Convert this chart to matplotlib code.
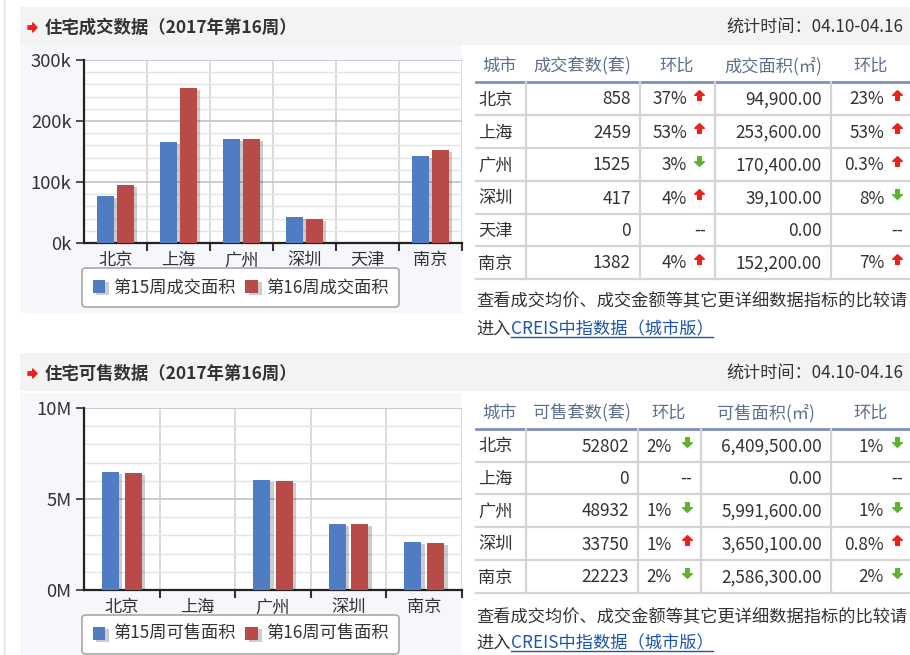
"""Weekly housing deal / supply dashboard: two bar charts with side tables."""

import matplotlib
matplotlib.use("Agg")
import matplotlib.pyplot as plt
import numpy as np
from matplotlib import patheffects as pe
from matplotlib.patches import Rectangle
from matplotlib.path import Path
from matplotlib.ticker import MultipleLocator, FuncFormatter

plt.rcParams['font.family'] = ['Noto Sans CJK SC', 'DejaVu Sans']

W, H = 910, 655

# ════════════════════════════════════════════════════════════════════════════
# DATA
# ════════════════════════════════════════════════════════════════════════════

DEAL_TITLE = "住宅成交数据（2017年第16周）"
SUPPLY_TITLE = "住宅可售数据（2017年第16周）"
PERIOD = "统计时间：04.10-04.16"

DEAL_CITIES = ["北京", "上海", "广州", "深圳", "天津", "南京"]
DEAL_AREA_W15 = [77200, 165800, 169900, 42500, 0, 142200]
DEAL_AREA_W16 = [94900, 253600, 170400, 39100, 0, 152200]
DEAL_UNITS = [858, 2459, 1525, 417, 0, 1382]
DEAL_UNITS_CHG = ["37%", "53%", "3%", "4%", "--", "4%"]
DEAL_UNITS_DIR = ["up", "up", "down", "up", None, "up"]
DEAL_AREA_CHG = ["23%", "53%", "0.3%", "8%", "--", "7%"]
DEAL_AREA_DIR = ["up", "up", "up", "down", None, "up"]
DEAL_HEADERS = ["城市", "成交套数(套)", "环比", "成交面积(㎡)", "环比"]
DEAL_LEGEND = ["第15周成交面积", "第16周成交面积"]

SUPPLY_CITIES = ["北京", "上海", "广州", "深圳", "南京"]
SUPPLY_AREA_W15 = [6474000, 0, 6052000, 3621000, 2639000]
SUPPLY_AREA_W16 = [6409500, 0, 5991600, 3650100, 2586300]
SUPPLY_UNITS = [52802, 0, 48932, 33750, 22223]
SUPPLY_UNITS_CHG = ["2%", "--", "1%", "1%", "2%"]
SUPPLY_UNITS_DIR = ["down", None, "down", "up", "down"]
SUPPLY_AREA_CHG = ["1%", "--", "1%", "0.8%", "2%"]
SUPPLY_AREA_DIR = ["down", None, "down", "up", "down"]
SUPPLY_HEADERS = ["城市", "可售套数(套)", "环比", "可售面积(㎡)", "环比"]
SUPPLY_LEGEND = ["第15周可售面积", "第16周可售面积"]

NOTE_LINE1 = "查看成交均价、成交金额等其它更详细数据指标的比较请"
NOTE_LINE2 = "进入"
NOTE_LINK = "CREIS中指数据（城市版）"

# ════════════════════════════════════════════════════════════════════════════
# STYLE
# ════════════════════════════════════════════════════════════════════════════

BLUE = "#4f7cc3"
RED = "#b84a47"
TXT = "#333333"
HEAD_TXT = "#5d6e8e"
UP_C = "#e8231b"
DOWN_C = "#5cb52c"
FS = 12.4

UP_ARROW = Path([(0, 1), (1, 0.05), (0.38, 0.05), (0.38, -1), (-0.38, -1),
                 (-0.38, 0.05), (-1, 0.05), (0, 1)], closed=True)
DOWN_ARROW = Path([(x, -y) for x, y in UP_ARROW.vertices], closed=True)
RIGHT_ARROW = Path([(y, x) for x, y in UP_ARROW.vertices], closed=True)

fig = plt.figure(figsize=(W / 100, H / 100), dpi=100)
fig.patch.set_facecolor("white")
renderer = fig.canvas.get_renderer()

bg = fig.add_axes([0, 0, 1, 1], zorder=0)
bg.set_xlim(0, W)
bg.set_ylim(H, 0)
bg.axis("off")

# page edge
bg.plot([4, 4], [0, H], color="#dddddd", lw=1)


def px_axes(left, top, right, bottom):
    return fig.add_axes([left / W, 1 - bottom / H, (right - left) / W, (bottom - top) / H], zorder=2)


def draw_header(y_top, title):
    bg.add_patch(Rectangle((20, y_top), W - 20, 38, color="#f3f3f3", lw=0))
    yc = y_top + 20
    bg.plot([32], [yc], marker=RIGHT_ARROW, ms=6.5, color="#e8231b", mec="#e8231b")
    bg.text(45, yc + 6, title, fontsize=12.5, fontweight="bold", color=TXT, va="baseline")
    bg.text(903, yc + 6, PERIOD, fontsize=12.3, color=TXT, ha="right", va="baseline")


def draw_chart(top, bottom, panel_bottom, cities, w15, w16, labels, ymax, major, minor,
               fmt, bar_w, off, leg_top):
    bg.add_patch(Rectangle((20, top - 15), 442, panel_bottom - top + 15, color="#f6f7fb", lw=0))
    ax = px_axes(84, top, 462, bottom)
    x = np.arange(len(cities))
    shadow = [pe.SimplePatchShadow(offset=(2.5, -1.5), shadow_rgbFace="#000000", alpha=0.2),
              pe.Normal()]
    b1 = ax.bar(x - off, w15, bar_w, color=BLUE, label=labels[0], path_effects=shadow, zorder=3)
    b2 = ax.bar(x + off, w16, bar_w, color=RED, label=labels[1], path_effects=shadow, zorder=3)

    ax.set_xlim(-0.5, len(cities) - 0.5)
    ax.set_ylim(0, ymax)
    ax.set_xticks(x)
    ax.set_xticklabels(cities, fontsize=FS, color=TXT)
    ax.set_xticks(x + 0.5, minor=True)
    ax.yaxis.set_major_locator(MultipleLocator(major))
    ax.yaxis.set_minor_locator(MultipleLocator(minor))
    ax.yaxis.set_major_formatter(FuncFormatter(fmt))
    ax.tick_params(axis="x", which="major", length=0, pad=6)
    ax.tick_params(axis="x", which="minor", length=6, width=1.5, color="#333333")
    ax.tick_params(axis="y", which="major", length=6, width=1.2, color="#333333",
                   labelsize=13.3, labelcolor=TXT, pad=3)
    ax.tick_params(axis="y", which="minor", length=0)

    ax.set_axisbelow(True)
    ax.grid(axis="y", which="major", color="#c8c8c8", lw=1.3)
    ax.grid(axis="y", which="minor", color="#e4e4e4", lw=1)
    ax.grid(axis="x", which="minor", color="#d8d8d8", lw=1.3)
    for side in ("top", "right"):
        ax.spines[side].set_visible(False)
    for side in ("left", "bottom"):
        ax.spines[side].set_color("#222222")
        ax.spines[side].set_linewidth(1.6)
    ax.set_facecolor("white")

    leg = ax.legend(handles=[b1, b2], ncol=2, loc="upper center",
                    bbox_to_anchor=(240.5 / W, 1 - leg_top / H), bbox_transform=fig.transFigure,
                    fontsize=FS, frameon=True, fancybox=True, edgecolor="#a8a8a8",
                    framealpha=1, handlelength=0.75, handleheight=0.75, handletextpad=0.45,
                    columnspacing=0.55, borderpad=0.6, borderaxespad=0)
    leg.get_frame().set_linewidth(1.2)
    for t in leg.get_texts():
        t.set_color(TXT)
    return ax


def draw_arrow(x, y, direction):
    if direction is None:
        return
    path = UP_ARROW if direction == "up" else DOWN_ARROW
    color = UP_C if direction == "up" else DOWN_C
    bg.plot([x], [y], marker=path, ms=7, color=color, mec=color, lw=0)


def draw_table(head_y, line_ys, col_xs, headers, head_xs, cities, units, units_chg, units_dir,
               area, area_chg, area_dir, units_right, pct1_right, arrow1_x, dash1_right):
    for s, hx in zip(headers, head_xs):
        bg.text(hx, head_y + 6, s, fontsize=FS, color=HEAD_TXT, ha="center", va="baseline")
    bg.plot([476, W], [line_ys[0], line_ys[0]], color="#7d8fbd", lw=2)
    for ly in line_ys[1:]:
        bg.plot([476, W], [ly, ly], color="#d4d4d4", lw=1.6)
    for cx in col_xs:
        bg.plot([cx, cx], [line_ys[0], line_ys[-1]], color="#d4d4d4", lw=1.6)

    for i, city in enumerate(cities):
        yc = (line_ys[i] + line_ys[i + 1]) / 2
        yb = yc + 6
        bg.text(478, yb, city, fontsize=FS, color=TXT, va="baseline")
        bg.text(units_right, yb, str(units[i]), fontsize=FS, color=TXT, ha="right", va="baseline")
        if units_dir[i] is None:
            bg.text(dash1_right, yb, units_chg[i], fontsize=FS, color=TXT, ha="right", va="baseline")
        else:
            bg.text(pct1_right, yb, units_chg[i], fontsize=FS, color=TXT, ha="right", va="baseline")
            draw_arrow(arrow1_x, yc - 4, units_dir[i])
        bg.text(822, yb, f"{area[i]:,.2f}", fontsize=FS, color=TXT, ha="right", va="baseline")
        if area_dir[i] is None:
            bg.text(903, yb, area_chg[i], fontsize=FS, color=TXT, ha="right", va="baseline")
        else:
            bg.text(884, yb, area_chg[i], fontsize=FS, color=TXT, ha="right", va="baseline")
            draw_arrow(897, yc - 4, area_dir[i])


def draw_note(y1, y2):
    bg.text(476, y1 + 6, NOTE_LINE1, fontsize=FS, color=TXT, va="baseline")
    lead = bg.text(476, y2 + 6, NOTE_LINE2, fontsize=FS, color=TXT, va="baseline")
    x0 = 476 + lead.get_window_extent(renderer).width
    link = bg.text(x0, y2 + 6, NOTE_LINK, fontsize=FS, color="#1f55a8", va="baseline")
    x1 = x0 + link.get_window_extent(renderer).width
    bg.plot([x0, x1], [y2 + 9, y2 + 9], color="#1f55a8", lw=1)


# ════════════════════════════════════════════════════════════════════════════
# TOP SECTION: deals
# ════════════════════════════════════════════════════════════════════════════

draw_header(7, DEAL_TITLE)
draw_chart(60, 243, 313, DEAL_CITIES, DEAL_AREA_W15, DEAL_AREA_W16, DEAL_LEGEND,
           300000, 100000, 20000, lambda v, p: f"{int(round(v / 1000))}k",
           0.27, 0.155, 268)
draw_table(65, [82, 115, 148, 181, 214, 246, 279], [526, 640, 715, 831], DEAL_HEADERS,
           [500, 582, 677, 773, 871], DEAL_CITIES, DEAL_UNITS, DEAL_UNITS_CHG, DEAL_UNITS_DIR,
           DEAL_AREA_W16, DEAL_AREA_CHG, DEAL_AREA_DIR, 631, 687, 699, 706)
draw_note(300, 328)

# ════════════════════════════════════════════════════════════════════════════
# BOTTOM SECTION: supply
# ════════════════════════════════════════════════════════════════════════════

draw_header(353, SUPPLY_TITLE)
draw_chart(408, 590, 655, SUPPLY_CITIES, SUPPLY_AREA_W15, SUPPLY_AREA_W16, SUPPLY_LEGEND,
           10000000, 5000000, 1000000, lambda v, p: f"{int(round(v / 1e6))}M",
           0.225, 0.15, 615)
draw_table(412, [429, 462, 494, 527, 560, 593], [526, 638, 701, 831], SUPPLY_HEADERS,
           [500, 582, 669, 766, 871], SUPPLY_CITIES, SUPPLY_UNITS, SUPPLY_UNITS_CHG,
           SUPPLY_UNITS_DIR, SUPPLY_AREA_W16, SUPPLY_AREA_CHG, SUPPLY_AREA_DIR,
           629, 672, 687, 692)
draw_note(616, 642)

fig.savefig("out.png", dpi=100)
plt.close(fig)
